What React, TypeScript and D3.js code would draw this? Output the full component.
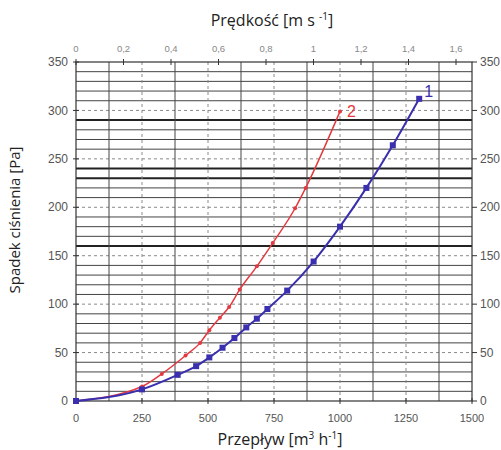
import React from "react";
import * as d3 from "d3";

const flowTicks = [0, 250, 500, 750, 1000, 1250, 1500];
const pressureTicks = [0, 50, 100, 150, 200, 250, 300, 350];
const speedTicks = [0, 0.2, 0.4, 0.6, 0.8, 1, 1.2, 1.4, 1.6];
const thickLines = [160, 230, 240, 290];

const series1Flow = [0, 250, 385, 455, 505, 555, 600, 645, 685, 725, 800, 900, 1000, 1100, 1200, 1300];
const series1Drop = [0, 12, 27, 36, 45, 55, 65, 76, 85, 95, 114, 144, 180, 220, 264, 312];
const series2Flow = [0, 250, 325, 415, 470, 505, 545, 580, 620, 685, 745, 830, 870, 1000];
const series2Drop = [0, 15, 28, 47, 60, 73, 86, 97, 115, 139, 163, 199, 220, 299];

const W = 501, H = 450;
const BLUE = "#3a2fae";
const RED = "#e4393f";

export default function App() {
  const x = d3.scaleLinear().domain([0, 1500]).range([76, 472]);
  const y = d3.scaleLinear().domain([0, 350]).range([401, 62]);
  const v = d3.scaleLinear().domain([0, 1.6]).range([76, 456]);

  const s1 = series1Flow.map((f, i) => [f, series1Drop[i]] as [number, number]);
  const s2 = series2Flow.map((f, i) => [f, series2Drop[i]] as [number, number]);
  const line = d3.line<[number, number]>().x(d => x(d[0])).y(d => y(d[1])).curve(d3.curveMonotoneX);

  const hLines = d3.range(10, 350, 10);
  const vSolid = d3.range(125, 1500, 250);
  const vDashed = d3.range(250, 1500, 250);
  const fmtSpeed = (d: number) => d3.format("~g")(d).replace(".", ",");
  const tickFont = "'Liberation Sans', Arial, sans-serif";
  const titleFont = "'Open Sans', 'Noto Sans', sans-serif";

  return (
    <svg width={W} height={H} style={{ position: "absolute", left: 0, top: 0, background: "#fff" }}>
      {/* horizontal grid */}
      {hLines.map(h => {
        const dashed = h % 50 === 0;
        const thick = thickLines.includes(h);
        return (
          <line key={"h" + h} x1={x(0)} x2={x(1500)} y1={y(h)} y2={y(h)}
            stroke={dashed ? "#8a8a8a" : thick ? "#222" : "#444"}
            strokeWidth={thick ? 2 : 1}
            strokeDasharray={dashed ? "3,3" : undefined} />
        );
      })}
      {/* vertical grid */}
      {vSolid.map(f => (
        <line key={"vs" + f} x1={x(f)} x2={x(f)} y1={y(0)} y2={y(350)} stroke="#444" strokeWidth={1} />
      ))}
      {vDashed.map(f => (
        <line key={"vd" + f} x1={x(f)} x2={x(f)} y1={y(0)} y2={y(350)} stroke="#8a8a8a" strokeWidth={1} strokeDasharray="3,3" />
      ))}
      {/* frame */}
      <rect x={x(0)} y={y(350)} width={x(1500) - x(0)} height={y(0) - y(350)} fill="none" stroke="#333" strokeWidth={1.2} />

      {/* left & right ticks */}
      {pressureTicks.map(p => (
        <g key={"pt" + p}>
          <line x1={x(0) - 3} x2={x(0) + 3} y1={y(p)} y2={y(p)} stroke="#333" />
          <line x1={x(1500)} x2={x(1500) + 5} y1={y(p)} y2={y(p)} stroke="#333" />
          <text x={x(0) - 8} y={y(p)} dy="0.35em" textAnchor="end" fontSize={12} fill="#555" fontFamily={tickFont}>{p}</text>
          <text x={x(1500) + 8} y={y(p)} dy="0.35em" textAnchor="start" fontSize={12} fill="#555" fontFamily={tickFont}>{p}</text>
        </g>
      ))}
      {/* bottom ticks */}
      {flowTicks.map(f => (
        <g key={"ft" + f}>
          <line x1={x(f)} x2={x(f)} y1={y(0) - 3} y2={y(0) + 3} stroke="#333" />
          <text x={x(f)} y={418} dy="0.35em" textAnchor="middle" fontSize={11} fill="#555" fontFamily={tickFont}>{f}</text>
        </g>
      ))}
      {/* top ticks */}
      {speedTicks.map(s => (
        <g key={"st" + s}>
          <line x1={v(s)} x2={v(s)} y1={y(350) - 3} y2={y(350) + 3} stroke="#333" />
          <text x={v(s)} y={49} dy="0.35em" textAnchor="middle" fontSize={9.5} fill="#888" fontFamily={tickFont}>{fmtSpeed(s)}</text>
        </g>
      ))}

      {/* series */}
      <path d={line(s2) || ""} fill="none" stroke={RED} strokeWidth={1.5} />
      <path d={line(s1) || ""} fill="none" stroke={BLUE} strokeWidth={2} />
      {s2.map((d, i) => (
        <circle key={"r" + i} cx={x(d[0])} cy={y(d[1])} r={2} fill={RED} />
      ))}
      {s1.map((d, i) => (
        <rect key={"b" + i} x={x(d[0]) - 3} y={y(d[1]) - 3} width={6} height={6} fill={BLUE} />
      ))}
      <text x={x(1300) + 5} y={y(312) - 2} fontSize={16} fill={BLUE} fontFamily={tickFont}>1</text>
      <text x={x(1000) + 7} y={y(299) + 6} fontSize={16} fill={RED} fontFamily={tickFont}>2</text>

      {/* titles */}
      <text x={272} y={26} textAnchor="middle" fontSize={16} fill="#222" fontFamily={titleFont}>
        Prędkość [m s <tspan fontSize={10} dy={-6}>-1</tspan><tspan dy={6}>]</tspan>
      </text>
      <text x={280} y={445} textAnchor="middle" fontSize={16} fill="#222" fontFamily={titleFont}>
        Przepływ [m<tspan fontSize={10} dy={-6}>3</tspan><tspan dy={6}> h</tspan><tspan fontSize={10} dy={-6}>-1</tspan><tspan dy={6}>]</tspan>
      </text>
      <text transform="translate(20,220) rotate(-90)" textAnchor="middle" fontSize={15} fill="#222" fontFamily={titleFont}>
        Spadek ciśnienia [Pa]
      </text>
    </svg>
  );
}
